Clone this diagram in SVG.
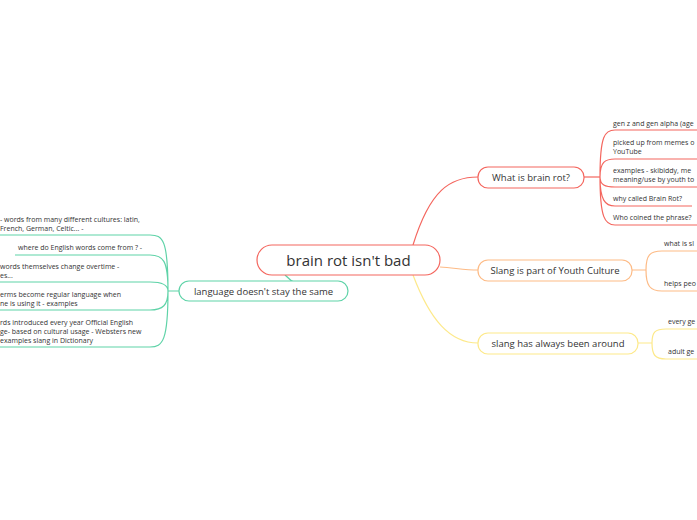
<svg xmlns="http://www.w3.org/2000/svg" width="697" height="520" viewBox="0 0 697 520">
<style>
text{font-family:"Open Sans","Liberation Sans",sans-serif;fill:#333}
.s{font-size:7px}
.m{font-size:9.5px}
.n{fill:#fff;stroke-width:1.2}
.c{fill:none;stroke-width:1.2}
.r{stroke:#f4665e}.o{stroke:#fdbb86}.y{stroke:#fde98a}.g{stroke:#5fd3a8}
</style>
<rect width="697" height="520" fill="#fff"/>
<g id="connectors">
<path class="c r" d="M413,245 C430,190 450,177 478,177" stroke-width="1.5"/>
<path class="c o" d="M440,267 C455,268 465,270 478,270" stroke-width="1.5"/>
<path class="c y" d="M413,275 C430,320 450,343 478,343" stroke-width="1.5"/>
<path class="c g" d="M285,275 C300,292 330,292 348,292" stroke-width="1.5"/>
<path class="c r" d="M584,177 H600"/>
<path class="c r" d="M600,177 C600,135 605,130 615,130 H697 M600,177 C600,162 605,159 615,159 H697 M600,177 C600,185 605,187 615,187 H697 M600,177 C600,200 605,206 615,206 H692 M600,177 C600,218 605,225 615,225 H697"/>
<path class="c o" d="M632,270 H646 C646,255 650,251 662,251 H697 M646,270 C646,286 650,291 662,291 H697"/>
<path class="c y" d="M638,343 H652 C652,332 655,329 666,329 H697 M652,343 C652,355 655,359 666,359 H697"/>
<path class="c g" d="M179,291 H168 M168,291 C168,240 163,235 150,235 H0 M168,291 C168,260 163,255 150,255 H15 M168,291 C168,285 163,282 150,282 H0 M168,291 C168,305 163,310 150,310 H0 M168,291 C168,340 163,347 150,347 H0"/>
</g>
<g id="central"><rect class="n r" x="257" y="245" width="183" height="30" rx="15" stroke-width="2"/><text x="348.5" y="266" text-anchor="middle" font-size="15">brain rot isn't bad</text></g>
<g id="lang"><rect class="n g" x="179" y="281" width="169" height="20" rx="10"/><text class="m" x="263.5" y="294.5" text-anchor="middle">language doesn't stay the same</text></g>
<g id="what"><rect class="n r" x="478" y="167" width="106" height="21" rx="10"/><text class="m" x="531" y="181" text-anchor="middle">What is brain rot?</text></g>
<g id="slang"><rect class="n o" x="478" y="260" width="154" height="21" rx="10"/><text class="m" x="555" y="274" text-anchor="middle">Slang is part of Youth Culture</text></g>
<g id="always"><rect class="n y" x="478" y="333" width="160" height="21" rx="10"/><text class="m" x="558" y="347" text-anchor="middle">slang has always been around</text></g>
<g id="what-kids">
<text class="s" x="613" y="126">gen z and gen alpha (age</text>
<text class="s" x="613" y="145">picked up from memes o</text><text class="s" x="613" y="154">YouTube</text>
<text class="s" x="613" y="173">examples - skibiddy, me</text><text class="s" x="613" y="182">meaning/use by youth to</text>
<text class="s" x="613" y="201">why called Brain Rot?</text>
<text class="s" x="613" y="220">Who coined the phrase?</text>
</g>
<g id="slang-kids"><text class="s" x="664" y="246">what is sl</text><text class="s" x="664" y="286">helps peo</text></g>
<g id="always-kids"><text class="s" x="668" y="324">every ge</text><text class="s" x="668" y="354">adult ge</text></g>
<g id="lang-kids">
<text class="s" x="0" y="222">- words from many different cultures: latin,</text><text class="s" x="0" y="231">French, German, Celtic... -</text>
<text class="s" x="18" y="250">where do English words come from ? -</text>
<text class="s" x="0" y="269">words themselves change overtime -</text><text class="s" x="0" y="278">es...</text>
<text class="s" x="0" y="297">erms become regular language when</text><text class="s" x="0" y="306">ne is using it - examples</text>
<text class="s" x="0" y="325">rds introduced every year Official English</text><text class="s" x="0" y="334">ge- based on cultural usage - Websters new</text><text class="s" x="0" y="343"> examples slang in Dictionary</text>
</g>
</svg>
